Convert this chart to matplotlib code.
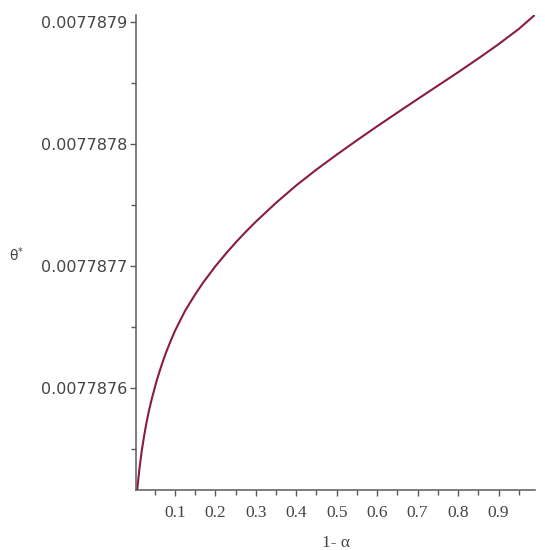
import matplotlib
matplotlib.use("Agg")
import matplotlib.pyplot as plt
from matplotlib.ticker import FixedLocator, FuncFormatter

# values
one_minus_alpha = [0.007, 0.012, 0.018, 0.024, 0.030, 0.036, 0.043, 0.055,
                   0.064, 0.072, 0.080, 0.088, 0.100, 0.125, 0.150, 0.171,
                   0.200, 0.229, 0.254, 0.278, 0.300, 0.350, 0.400, 0.450,
                   0.500, 0.550, 0.600, 0.650, 0.700, 0.750, 0.800, 0.850,
                   0.900, 0.950, 0.990]
theta_star = [0.00778751600, 0.00778753200, 0.00778754760, 0.00778756020,
              0.00778757130, 0.00778758090, 0.00778759070, 0.00778760550,
              0.00778761510, 0.00778762300, 0.00778763020, 0.00778763690,
              0.00778764630, 0.00778766280, 0.00778767630, 0.00778768660,
              0.00778769940, 0.00778771100, 0.00778772030, 0.00778772870,
              0.00778773600, 0.00778775150, 0.00778776580, 0.00778777880,
              0.00778779100, 0.00778780280, 0.00778781430, 0.00778782550,
              0.00778783660, 0.00778784760, 0.00778785860, 0.00778786990,
              0.00778788160, 0.00778789410, 0.00778790570]

x_major = [0.1, 0.2, 0.3, 0.4, 0.5, 0.6, 0.7, 0.8, 0.9]
x_minor = [0.05, 0.15, 0.25, 0.35, 0.45, 0.55, 0.65, 0.75, 0.85, 0.95]
y_major = [0.0077876, 0.0077877, 0.0077878, 0.0077879]
y_minor = [0.00778755, 0.00778765, 0.00778775, 0.00778785]

axis_col = "#5a5a5a"
line_col = "#8a1c3c"

fig = plt.figure(figsize=(5.45, 5.5), dpi=100)
ax = fig.add_axes([0.2495, 0.109, 0.732, 0.864])

ax.plot(one_minus_alpha, theta_star, color=line_col, lw=1.5)

ax.set_xlim(0.004, 0.99)
ax.set_ylim(theta_star[0], theta_star[-1])

for s in ["top", "right"]:
    ax.spines[s].set_visible(False)
for s in ["left", "bottom"]:
    ax.spines[s].set_color(axis_col)
    ax.spines[s].set_linewidth(1.1)

ax.xaxis.set_major_locator(FixedLocator(x_major))
ax.xaxis.set_minor_locator(FixedLocator(x_minor))
ax.yaxis.set_major_locator(FixedLocator(y_major))
ax.yaxis.set_minor_locator(FixedLocator(y_minor))
ax.xaxis.set_major_formatter(FuncFormatter(lambda v, p: "%.1f" % v))
ax.yaxis.set_major_formatter(FuncFormatter(lambda v, p: "%.7f" % v))

ax.tick_params(which="both", direction="out", color=axis_col, width=1.0)
ax.tick_params(which="major", length=4)
ax.tick_params(which="minor", length=3.5)
ax.tick_params(axis="y", pad=2, labelsize=11.5, labelcolor="#444444")
ax.tick_params(axis="x", pad=7, labelsize=12.5, labelcolor="#444444")
for lab in ax.get_xticklabels():
    lab.set_family("Liberation Serif")
for lab in ax.get_yticklabels():
    lab.set_family("DejaVu Sans")

ax.set_xlabel("1- α", family="Liberation Serif", fontsize=12.5, color="#444444")
ax.xaxis.set_label_coords(0.5, -0.095)
ax.set_ylabel(r"θ$^{*}$", family="DejaVu Sans", fontsize=10, color="#444444",
              rotation=0)
ax.yaxis.set_label_coords(-0.30, 0.475)

fig.savefig("out.png", dpi=100)
